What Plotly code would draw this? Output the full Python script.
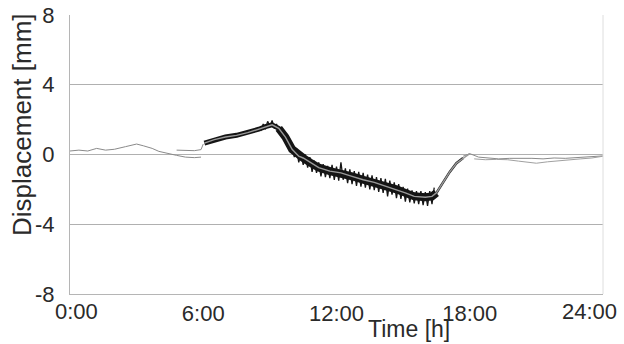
import plotly.graph_objects as go

# ---- data (hours, displacement mm) ----
early_h = [0.0, 0.4, 0.8, 1.2, 1.6, 2.0, 2.5, 3.0, 3.3, 3.7, 4.0, 4.4, 4.8, 5.2, 5.6, 5.9]
early_v = [0.2, 0.25, 0.2, 0.35, 0.25, 0.3, 0.45, 0.6, 0.5, 0.35, 0.18, 0.05, -0.05, -0.15, -0.18, -0.15]

early2_h = [4.8, 5.2, 5.6, 5.9, 6.0]
early2_v = [0.25, 0.25, 0.22, 0.28, 0.6]

bandA_h = [6.05, 6.5, 7.0, 7.5, 8.0, 8.5, 8.8, 9.1, 9.4, 9.7]
bandA_v = [0.65, 0.85, 1.0, 1.1, 1.25, 1.45, 1.6, 1.7, 1.5, 1.0]

bandB_h = [9.4, 9.7, 10.0, 10.3, 10.5, 10.8, 11.2, 11.7, 12.2, 12.7, 13.2, 13.7, 14.2, 14.7,
           15.1, 15.5, 16.0, 16.3, 16.5]
bandB_v = [1.5, 1.0, 0.3, -0.1, -0.2, -0.45, -0.75, -0.95, -1.05, -1.25, -1.45, -1.6, -1.8, -2.0,
           -2.2, -2.4, -2.45, -2.4, -2.2]

bandC_h = [16.3, 16.5, 16.8, 17.1, 17.4, 17.7]
bandC_v = [-2.4, -2.2, -1.6, -1.0, -0.5, -0.2]

center_h = [6.05, 6.5, 7.0, 7.5, 8.0, 8.5, 8.8, 9.1, 9.4, 9.7, 10.0, 10.3, 10.5, 10.8, 11.2, 11.7,
            12.2, 12.7, 13.2, 13.7, 14.2, 14.7, 15.1, 15.5, 16.0, 16.3, 16.5, 16.8, 17.1, 17.4, 17.8, 18.0]
center_v = [0.65, 0.85, 1.0, 1.1, 1.25, 1.45, 1.6, 1.7, 1.5, 1.0, 0.3, -0.1, -0.2, -0.45, -0.75, -0.95,
            -1.05, -1.25, -1.45, -1.6, -1.8, -2.0, -2.2, -2.4, -2.45, -2.4, -2.2, -1.6, -1.0, -0.5, -0.1, 0.05]

noise_h = [8.5, 8.6, 8.7, 8.8, 8.9, 9.0, 9.1, 9.2, 9.3, 9.4, 9.5, 9.6, 9.7, 9.8, 9.9,
           10.0, 10.1, 10.2, 10.3, 10.4, 10.5, 10.6, 10.7, 10.8, 10.9, 11.0, 11.1, 11.2, 11.3, 11.4,
           11.5, 11.6, 11.7, 11.8, 11.9, 12.0, 12.1, 12.2, 12.3, 12.4, 12.5, 12.6, 12.7, 12.8, 12.9,
           13.0, 13.1, 13.2, 13.3, 13.4, 13.5, 13.6, 13.7, 13.8, 13.9, 14.0, 14.1, 14.2, 14.3, 14.4,
           14.5, 14.6, 14.7, 14.8, 14.9, 15.0, 15.1, 15.2, 15.3, 15.4, 15.5, 15.6, 15.7, 15.8, 15.9,
           16.0, 16.1, 16.2, 16.3, 16.4]
noise_v = [1.55, 1.4, 1.75, 1.45, 1.9, 1.6, 1.95, 1.5, 1.75, 1.25, 1.5, 0.9, 1.2, 0.45, 0.8,
           0.55, -0.15, 0.35, -0.45, 0.1, -0.6, 0.0, -0.75, -0.15, -1.0, -0.35, -1.05, -0.45, -1.25, -0.55,
           -1.3, -0.65, -1.35, -0.6, -1.45, -0.7, -1.5, -0.45, -1.45, -0.8, -1.65, -0.85, -1.7, -0.95, -1.8,
           -1.0, -1.85, -1.05, -1.9, -1.15, -2.0, -1.2, -2.05, -1.3, -2.15, -1.35, -2.2, -1.4, -2.4, -1.5,
           -2.3, -1.6, -2.5, -1.7, -2.55, -1.85, -2.7, -1.95, -2.75, -2.05, -2.8, -2.1, -2.85, -2.1, -2.9,
           -2.15, -2.95, -2.1, -2.85, -1.9]

lateA_h = [17.7, 18.0, 18.4, 18.8, 19.3, 19.8, 20.3, 20.8, 21.3, 21.8, 22.3, 22.8, 23.3, 23.8, 24.0]
lateA_v = [-0.1, 0.05, -0.15, -0.2, -0.25, -0.22, -0.2, -0.22, -0.25, -0.2, -0.22, -0.18, -0.15, -0.1, -0.08]

lateB_h = [18.2, 18.7, 19.2, 19.7, 20.2, 20.6, 21.0, 21.5, 22.0, 22.5, 23.0, 23.5, 24.0]
lateB_v = [-0.25, -0.3, -0.28, -0.3, -0.38, -0.45, -0.5, -0.42, -0.35, -0.3, -0.25, -0.2, -0.1]

x_ticks = [6, 12, 18]
x_ticklabels = ["6:00", "12:00", "18:00"]
y_ticks = [-8, -4, 0, 4, 8]
y_ticklabels = ["-8", "-4", "0", "4", "8"]

FONT = "Liberation Sans, Arial, Helvetica, sans-serif"
TXT = "#2a2a2a"

fig = go.Figure()
fig.add_trace(go.Scatter(x=early_h, y=early_v, mode="lines", line=dict(color="#8a8a8a", width=1)))
fig.add_trace(go.Scatter(x=early2_h, y=early2_v, mode="lines", line=dict(color="#8a8a8a", width=1)))
fig.add_trace(go.Scatter(x=lateA_h, y=lateA_v, mode="lines", line=dict(color="#8a8a8a", width=1)))
fig.add_trace(go.Scatter(x=lateB_h, y=lateB_v, mode="lines", line=dict(color="#a0a0a0", width=1)))
fig.add_trace(go.Scatter(x=bandA_h, y=bandA_v, mode="lines", line=dict(color="#151515", width=5)))
fig.add_trace(go.Scatter(x=bandB_h, y=bandB_v, mode="lines", line=dict(color="#151515", width=8)))
fig.add_trace(go.Scatter(x=bandC_h, y=bandC_v, mode="lines", line=dict(color="#252525", width=2.5)))
fig.add_trace(go.Scatter(x=noise_h, y=noise_v, mode="lines", line=dict(color="#151515", width=1.3)))
fig.add_trace(go.Scatter(x=center_h, y=center_v, mode="lines", line=dict(color="#9a9a9a", width=1.4)))

fig.update_layout(
    width=624, height=344,
    margin=dict(l=70, r=21, t=15, b=50, autoexpand=False),
    paper_bgcolor="white", plot_bgcolor="white",
    showlegend=False,
    font=dict(family=FONT, size=22, color=TXT),
    xaxis=dict(range=[0, 24], tickvals=x_ticks, ticktext=x_ticklabels, showgrid=False,
               zeroline=False, showline=True, linecolor="#b5b5b5", linewidth=1, automargin=False,
               ticks="", ticklabeloverflow="allow", tickfont=dict(size=22, color=TXT)),
    yaxis=dict(range=[-8, 8], tickvals=y_ticks, ticktext=y_ticklabels, showgrid=True,
               gridcolor="#b0b0b0", gridwidth=1, zeroline=False, showline=True, automargin=False,
               linecolor="#b5b5b5", linewidth=1, ticks="", ticklabelstandoff=10,
               ticklabeloverflow="allow", tickfont=dict(size=22, color=TXT)),
    annotations=[
        dict(text="0:00", xref="paper", yref="paper", x=0.013, y=-0.061, showarrow=False,
             xanchor="center", yanchor="middle", font=dict(size=22, color=TXT)),
        dict(text="24:00", xref="paper", yref="paper", x=0.974, y=-0.061, showarrow=False,
             xanchor="center", yanchor="middle", font=dict(size=22, color=TXT)),
        dict(text="Time [h]", xref="paper", yref="paper", x=0.636, y=-0.125, showarrow=False,
             xanchor="center", yanchor="middle", font=dict(size=23, color=TXT)),
        dict(text="Displacement [mm]", xref="paper", yref="paper", x=-0.09, y=0.606,
             showarrow=False, textangle=-90, xanchor="center", yanchor="middle",
             font=dict(size=26, color=TXT)),
    ],
    shapes=[
        dict(type="line", xref="paper", yref="paper", x0=1, x1=1, y0=0, y1=1,
             line=dict(color="#dedede", width=1)),
    ],
)

fig.write_html("out.html", config={"displayModeBar": False},
               post_script="document.body.style.margin='0';")
